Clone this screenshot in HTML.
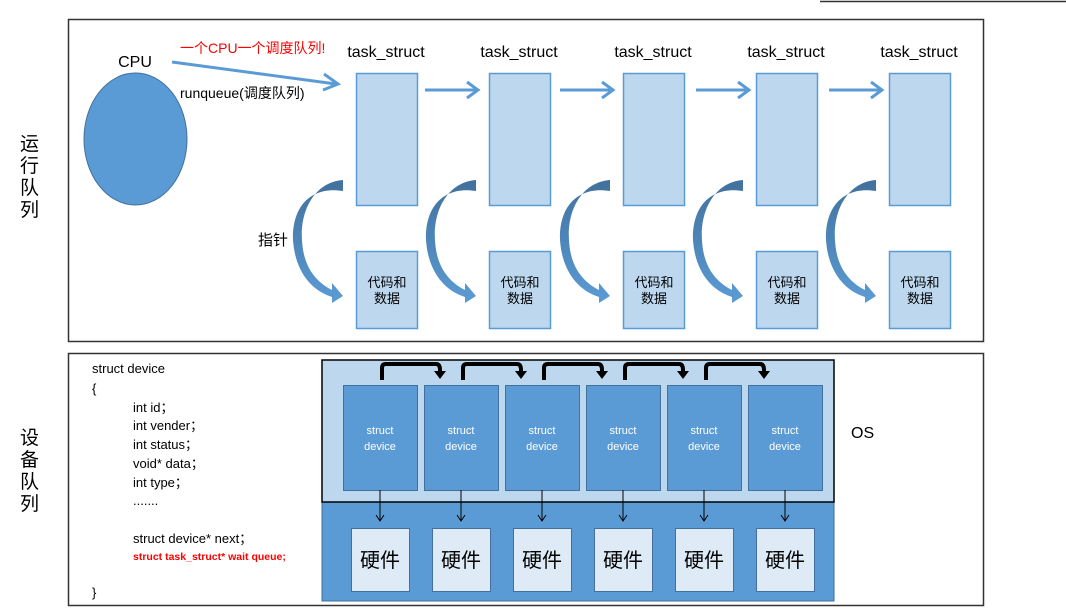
<!DOCTYPE html>
<html><head><meta charset="utf-8"><style>
body{margin:0;width:1066px;height:607px;background:#fff;overflow:hidden}
text{font-family:"Liberation Sans","Noto Sans CJK SC",sans-serif}
</style></head><body>
<svg width="1066" height="607" viewBox="0 0 1066 607" xmlns="http://www.w3.org/2000/svg">
<defs>
<linearGradient id="cg" x1="0" y1="0" x2="0" y2="1"><stop offset="0" stop-color="#41719c"/><stop offset="1" stop-color="#5b9bd5"/></linearGradient>
<g id="curve"><path d="M343,180 C315,182 300,210 302,240 C303,262 312,280 332,290 L332,283 L343,296 L332,303 L332,297 C310,290 295,270 293,240 C292,205 312,186 343,191 Z" fill="url(#cg)"/></g>
</defs>
<line x1="820" y1="1.5" x2="1066" y2="1.5" stroke="#333" stroke-width="1.5"/>
<rect x="68.5" y="19.5" width="915" height="322" fill="#fff" stroke="#333" stroke-width="1.5"/>
<rect x="68.5" y="353.5" width="915" height="252" fill="#fff" stroke="#333" stroke-width="1.5"/>
<g font-size="19" fill="#000">
<text x="20" y="150">运</text><text x="20" y="172">行</text><text x="20" y="194">队</text><text x="20" y="216">列</text>
<text x="20" y="444">设</text><text x="20" y="466">备</text><text x="20" y="488">队</text><text x="20" y="510">列</text>
</g>
<ellipse cx="135.5" cy="139" rx="51.5" ry="66" fill="#5b9bd5" stroke="#41719c"/>
<text x="135" y="67" font-size="16" text-anchor="middle">CPU</text>
<text x="180" y="53" font-size="14" fill="#ff0000">一个CPU一个调度队列!</text>
<text x="180" y="98" font-size="14">runqueue(调度队列)</text>
<line x1="172" y1="62" x2="336" y2="84" stroke="#5b9bd5" stroke-width="3"/>
<polyline points="324,74 338,84 323,90" fill="none" stroke="#5b9bd5" stroke-width="3"/>
<text x="258" y="245" font-size="15">指针</text>
<g font-size="16">
<text x="386" y="57" text-anchor="middle">task_struct</text>
<text x="519" y="57" text-anchor="middle">task_struct</text>
<text x="653" y="57" text-anchor="middle">task_struct</text>
<text x="786" y="57" text-anchor="middle">task_struct</text>
<text x="919" y="57" text-anchor="middle">task_struct</text>
</g>
<g id="col">
<rect x="356.5" y="73.5" width="61" height="132" fill="#bdd7ee" stroke="#5b9bd5" stroke-width="1.5"/>
<rect x="356.5" y="251.5" width="61" height="77" fill="#bdd7ee" stroke="#5b9bd5" stroke-width="1.5"/>
<text x="387" y="287" font-size="13" text-anchor="middle">代码和</text>
<text x="387" y="303" font-size="13" text-anchor="middle">数据</text>
<use href="#curve"/>
</g>
<use href="#col" x="133"/><use href="#col" x="267"/><use href="#col" x="400"/><use href="#col" x="533"/>
<g stroke="#5b9bd5" stroke-width="3" fill="none">
<g id="ha"><line x1="425" y1="90" x2="477" y2="90"/><polyline points="467,82 478,90 467,98"/></g>
<use href="#ha" x="135"/><use href="#ha" x="271"/><use href="#ha" x="404"/>
</g>
<g font-size="13">
<text x="92" y="373">struct device</text>
<text x="92" y="393">{</text>
<text x="133" y="412">int id；</text>
<text x="133" y="430">int vender；</text>
<text x="133" y="449">int status；</text>
<text x="133" y="468">void* data；</text>
<text x="133" y="487">int type；</text>
<text x="133" y="505">.......</text>
<text x="133" y="543">struct device* next；</text>
<text x="133" y="560" font-size="10.5" font-weight="bold" fill="#ff0000">struct task_struct* wait queue;</text>
<text x="92" y="597">}</text>
</g>
<rect x="322" y="502" width="512" height="99" fill="#5b9bd5" stroke="#41719c"/>
<rect x="322" y="360" width="512" height="142" fill="#bdd7ee" stroke="#000" stroke-width="1.5"/>
<g id="dev">
<rect x="343.5" y="385.5" width="74" height="105" fill="#5b9bd5" stroke="#41719c"/>
<text x="380" y="434" font-size="11" fill="#fff" text-anchor="middle">struct</text>
<text x="380" y="450" font-size="11" fill="#fff" text-anchor="middle">device</text>
<line x1="380" y1="490" x2="380" y2="520" stroke="#000"/>
<polyline points="376,515 380,521 384,515" fill="none" stroke="#000"/>
<rect x="351.5" y="528.5" width="58" height="63" fill="#deebf7" stroke="#41719c"/>
<text x="380" y="567" font-size="20" text-anchor="middle">硬件</text>
</g>
<use href="#dev" x="81"/><use href="#dev" x="162"/><use href="#dev" x="243"/><use href="#dev" x="324"/><use href="#dev" x="405"/>
<g id="ba"><path d="M382,380 L382,368 Q382,364 386,364 L436,364 Q440,364 440,370 L440,372" fill="none" stroke="#000" stroke-width="4"/><polygon points="434,371 446,371 440,379" fill="#000"/></g>
<use href="#ba" x="81"/><use href="#ba" x="162"/><use href="#ba" x="243"/><use href="#ba" x="324"/>
<text x="851" y="438" font-size="16">OS</text>
</svg>
</body></html>
